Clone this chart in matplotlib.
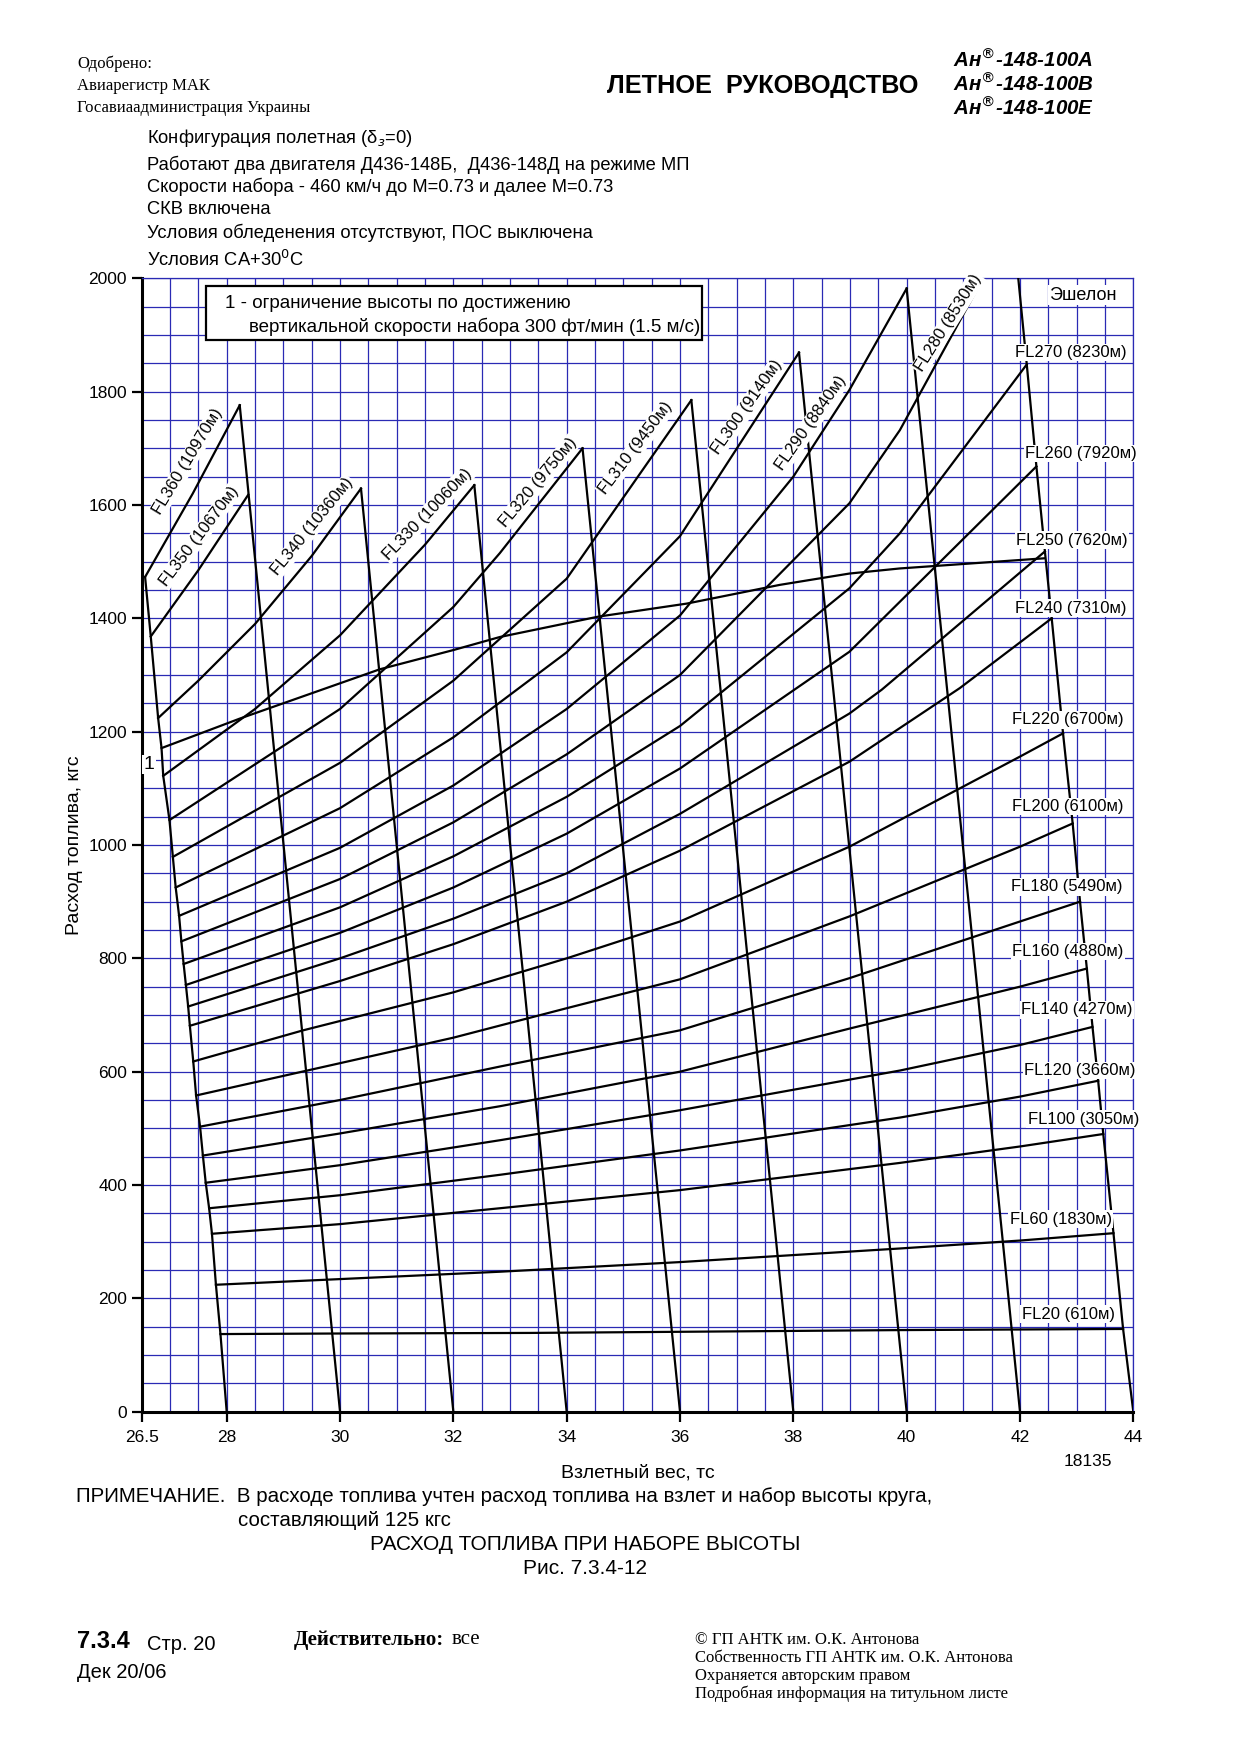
import matplotlib
matplotlib.use('Agg')
import matplotlib.pyplot as plt
from matplotlib.ticker import MultipleLocator
from matplotlib.patches import Rectangle

plt.rcParams['font.family'] = ['Liberation Sans', 'DejaVu Sans']

# --- data (x = takeoff weight, t; y = fuel, kg) ---
fl20_x = [27.89, 30, 33.36, 36, 39.88, 43.82]
fl20_y = [137, 138, 139, 141, 144, 146]
fl60_x = [27.81, 30, 32.82, 36, 39.88, 42, 43.65]
fl60_y = [224, 234, 247, 264, 288, 302, 315]
fl100_x = [27.74, 30, 32.82, 36, 39.88, 42, 43.47]
fl100_y = [314, 331, 359, 391, 439, 468, 490]
fl120_x = [27.69, 30, 32.82, 36, 39.88, 42, 43.38]
fl120_y = [359, 382, 418, 461, 519, 556, 584]
fl140_x = [27.63, 30, 32.82, 36, 39.88, 42, 43.28]
fl140_y = [404, 435, 479, 532, 602, 647, 679]
fl160_x = [27.58, 30, 32.82, 36, 38.99, 42, 43.18]
fl160_y = [452, 491, 539, 600, 676, 750, 782]
fl180_x = [27.53, 30, 32.82, 36, 38.99, 42, 43.06]
fl180_y = [503, 550, 609, 673, 765, 865, 900]
fl200_x = [27.46, 30, 32, 34, 36, 38.99, 42, 42.93]
fl200_y = [558, 615, 660, 712, 763, 874, 997, 1038]
fl220_x = [27.41, 29.35, 32, 34, 36, 38.99, 42, 42.76]
fl220_y = [618, 673, 740, 800, 865, 997, 1156, 1197]
fl240_x = [27.35, 30, 32, 34, 36, 38.99, 40.94, 42.56]
fl240_y = [681, 760, 825, 900, 990, 1147, 1277, 1400]
fl250_x = [27.32, 30, 32, 34, 36, 38.99, 39.56, 42.44]
fl250_y = [715, 800, 870, 950, 1055, 1232, 1274, 1518]
fl260_x = [27.28, 30, 32, 34, 36, 38.99, 42.29]
fl260_y = [753, 845, 925, 1020, 1135, 1341, 1668]
fl270_x = [27.24, 30, 32, 34, 36, 38.99, 39.88, 42.12]
fl270_y = [790, 890, 980, 1085, 1210, 1453, 1550, 1848]
fl280_x = [27.2, 30, 32, 34, 36, 38.99, 39.88, 41.35, 41.6]
fl280_y = [830, 940, 1040, 1160, 1300, 1603, 1732, 2000, 2050]
fl290_x = [27.16, 30, 32, 34, 36, 38, 38.99, 40.0]
fl290_y = [875, 995, 1105, 1240, 1405, 1650, 1803, 1982]
fl300_x = [27.1, 30, 32, 34, 36, 38.1]
fl300_y = [925, 1065, 1190, 1340, 1545, 1869]
fl310_x = [27.05, 30, 32, 34, 36.2]
fl310_y = [979, 1145, 1290, 1470, 1785]
fl320_x = [26.99, 30, 32, 32.82, 34.28]
fl320_y = [1044, 1240, 1420, 1515, 1700]
fl330_x = [26.88, 28.5, 30, 31.5, 32.37]
fl330_y = [1122, 1240, 1370, 1530, 1635]
fl340_x = [26.79, 27.5, 28.5, 29.5, 30.37]
fl340_y = [1224, 1290, 1390, 1510, 1629]
fl350_x = [26.66, 27.5, 28.38]
fl350_y = [1368, 1485, 1618]
fl360_x = [26.56, 27.4, 28.23]
fl360_y = [1473, 1620, 1776]

# limit curve "1" (vertical speed 300 ft/min)
limit_x = [26.85, 28.23, 30.7, 32, 32.82, 34.56, 36.12, 37.76, 38.99, 39.88, 42.44]
limit_y = [1171, 1223, 1310, 1344, 1367, 1403, 1426, 1459, 1479, 1488, 1506]

# guide lines: from the peak of a curve down to these weights at zero fuel
guide_bottom = [30, 32, 34, 36, 38, 40, 42]
right_edge_top = (41.97, 2000)

# label texts
right_names = ['FL270 (8230м)', 'FL260 (7920м)', 'FL250 (7620м)', 'FL240 (7310м)',
               'FL220 (6700м)', 'FL200 (6100м)', 'FL180 (5490м)', 'FL160 (4880м)',
               'FL140 (4270м)', 'FL120 (3660м)', 'FL100 (3050м)', 'FL60 (1830м)',
               'FL20 (610м)']
right_lx = [42.9, 43.08, 42.92, 42.9, 42.84, 42.85, 42.82, 42.84, 43.0, 43.06, 43.12, 42.72, 42.85]
right_ly = [1869, 1691, 1538, 1418, 1221, 1068, 926, 812, 709, 602, 516, 340, 172]

slant_names = ['FL360 (10970м)', 'FL350 (10670м)', 'FL340 (10360м)', 'FL330 (10060м)',
               'FL320 (9750м)', 'FL310 (9450м)', 'FL300 (9140м)', 'FL290 (8840м)',
               'FL280 (8530м)']
slant_lx = [27.31, 27.51, 29.51, 31.54, 33.5, 35.22, 37.18, 38.31, 40.73]
slant_ly = [1677, 1545, 1562, 1584, 1640, 1700, 1772, 1744, 1921]
slant_rot = [59, 53, 51, 46, 50, 53, 55, 55, 58]

curves = [(fl20_x, fl20_y), (fl60_x, fl60_y), (fl100_x, fl100_y), (fl120_x, fl120_y),
          (fl140_x, fl140_y), (fl160_x, fl160_y), (fl180_x, fl180_y), (fl200_x, fl200_y),
          (fl220_x, fl220_y), (fl240_x, fl240_y), (fl250_x, fl250_y), (fl260_x, fl260_y),
          (fl270_x, fl270_y), (fl280_x, fl280_y), (fl290_x, fl290_y), (fl300_x, fl300_y),
          (fl310_x, fl310_y), (fl320_x, fl320_y), (fl330_x, fl330_y), (fl340_x, fl340_y),
          (fl350_x, fl350_y), (fl360_x, fl360_y)]

# curves whose peak starts a guide line (in order of guide_bottom)
peak_curves = [(fl360_x, fl360_y), (fl340_x, fl340_y), (fl330_x, fl330_y), (fl320_x, fl320_y),
               (fl310_x, fl310_y), (fl300_x, fl300_y), (fl290_x, fl290_y)]
# curves that end on the right boundary line
right_curves = [(fl270_x, fl270_y), (fl260_x, fl260_y), (fl250_x, fl250_y), (fl240_x, fl240_y),
                (fl220_x, fl220_y), (fl200_x, fl200_y), (fl180_x, fl180_y), (fl160_x, fl160_y),
                (fl140_x, fl140_y), (fl120_x, fl120_y), (fl100_x, fl100_y), (fl60_x, fl60_y),
                (fl20_x, fl20_y)]

W, H = 1240, 1755
fig = plt.figure(figsize=(W / 100, H / 100), dpi=100)


def px(x, y):
    return x / W, 1 - y / H


ax = fig.add_axes([141.7 / W, 1 - 1411.7 / H, 991.6 / W, 1133.4 / H])
ax.set_xlim(26.5, 44)
ax.set_ylim(0, 2000)

grid_col = '#2a2ab4'
ax.set_xticks([26.5, 28, 30, 32, 34, 36, 38, 40, 42, 44])
ax.set_xticklabels(['26.5', '28', '30', '32', '34', '36', '38', '40', '42', '44'])
ax.set_yticks(range(0, 2001, 200))
ax.xaxis.set_minor_locator(MultipleLocator(0.5))
ax.yaxis.set_minor_locator(MultipleLocator(50))
ax.grid(which='both', color=grid_col, lw=0.9, zorder=0)
ax.tick_params(which='minor', length=0)
ax.tick_params(which='major', direction='out', length=7, width=1.6, labelsize=12.5, colors='black')
ax.tick_params(axis='x', pad=6)
for s in ['left', 'bottom']:
    ax.spines[s].set_linewidth(2.2)
    ax.spines[s].set_color('black')
for s in ['top', 'right']:
    ax.spines[s].set_linewidth(0.9)
    ax.spines[s].set_color(grid_col)
ax.set_axisbelow(True)

lw = 1.6
for cx, cy in curves:
    ax.plot(cx, cy, color='black', lw=lw, zorder=3)
ax.plot(limit_x, limit_y, color='black', lw=lw, zorder=3)

# left boundary through the curve starts
starts = sorted([(cx[0], cy[0]) for cx, cy in curves] + [(limit_x[0], limit_y[0])], key=lambda p: -p[1])
ax.plot([p[0] for p in starts] + [28], [p[1] for p in starts] + [0], color='black', lw=lw, zorder=3)

# guide lines
for (cx, cy), xb in zip(peak_curves, guide_bottom):
    ax.plot([cx[-1], xb], [cy[-1], 0], color='black', lw=lw, zorder=3)

# right boundary through the curve ends
rx = [right_edge_top[0]] + [cx[-1] for cx, cy in right_curves] + [44]
ry = [right_edge_top[1]] + [cy[-1] for cx, cy in right_curves] + [0]
ax.plot(rx, ry, color='black', lw=lw, zorder=3)

box = dict(facecolor='white', edgecolor='none', pad=1.0)
for name, lx, ly in zip(right_names, right_lx, right_ly):
    ax.text(lx, ly, name, fontsize=12, ha='center', va='center', bbox=box, zorder=5)
for name, lx, ly, r in zip(slant_names, slant_lx, slant_ly, slant_rot):
    ax.text(lx, ly, name, fontsize=12, ha='center', va='center', rotation=r,
            rotation_mode='anchor', bbox=box, zorder=5)
ax.text(43.11, 1970, 'Эшелон', fontsize=13, ha='center', va='center', bbox=box, zorder=5)
ax.text(26.63, 1142, '1', fontsize=14, ha='center', va='center', bbox=box, zorder=5)

# note box for curve 1
ax.add_patch(Rectangle((27.63, 1891), 36.38 - 27.63, 1986 - 1891, facecolor='white',
                       edgecolor='black', lw=1.6, zorder=6))
ax.text(27.97, 1956, '1 - ограничение высоты по достижению', fontsize=13.5,
        ha='left', va='center', zorder=7)
ax.text(28.40, 1914, 'вертикальной скорости набора 300 фт/мин (1.5 м/с)', fontsize=13.5,
        ha='left', va='center', zorder=7)

ax.set_ylabel('Расход топлива, кгс', fontsize=14, labelpad=4)
ax.set_xlabel('Взлетный вес, тс', fontsize=14, labelpad=14)

# header
serif = ['Liberation Serif', 'DejaVu Serif']
fig.text(*px(77, 64), 'Одобрено:', fontsize=12, family=serif, va='center')
fig.text(*px(77, 86), 'Авиарегистр МАК', fontsize=12, family=serif, va='center')
fig.text(*px(77, 108), 'Госавиаадминистрация Украины', fontsize=12, family=serif, va='center')
fig.text(*px(607, 86), 'ЛЕТНОЕ  РУКОВОДСТВО', fontsize=18.2, weight='bold', va='center')
for i, s in enumerate(['А', 'В', 'Е']):
    fig.text(*px(953, 60 + i * 24), 'Ан$^{®}$-148-100' + s, fontsize=14.8,
             weight='bold', style='italic', va='center')

cond = ['Конфигурация полетная (δ$_з$=0)',
        'Работают два двигателя Д436-148Б,  Д436-148Д на режиме МП',
        'Скорости набора - 460 км/ч до М=0.73 и далее М=0.73',
        'СКВ включена',
        'Условия обледенения отсутствуют, ПОС выключена',
        'Условия СА+30$^0$С']
cond_y = [138, 164.5, 187, 209.3, 232.8, 259.6]
for s, yy in zip(cond, cond_y):
    fig.text(*px(147, yy), s, fontsize=13.2, va='center')

fig.text(*px(1088, 1461), '18135', fontsize=12.5, ha='center', va='center')
fig.text(*px(76, 1496), 'ПРИМЕЧАНИЕ.  В расходе топлива учтен расход топлива на взлет и набор высоты круга,',
         fontsize=14.8, va='center')
fig.text(*px(238, 1521), 'составляющий 125 кгс', fontsize=14.8, va='center')
fig.text(*px(585, 1545), 'РАСХОД ТОПЛИВА ПРИ НАБОРЕ ВЫСОТЫ', fontsize=15, ha='center', va='center')
fig.text(*px(585, 1568), 'Рис. 7.3.4-12', fontsize=15, ha='center', va='center')

# footer
fig.text(*px(77, 1642), '7.3.4', fontsize=17, weight='bold', va='center')
fig.text(*px(147, 1644), 'Стр. 20', fontsize=14.5, va='center')
fig.text(*px(77, 1673), 'Дек 20/06', fontsize=14.5, va='center')
fig.text(*px(294, 1640), 'Действительно:', fontsize=15, family=serif, weight='bold', va='center')
fig.text(*px(452, 1640), 'все', fontsize=15, family=serif, va='center')
foot = ['© ГП АНТК им. О.К. Антонова', 'Собственность ГП АНТК им. О.К. Антонова',
        'Охраняется авторским правом', 'Подробная информация на титульном листе']
for i, s in enumerate(foot):
    fig.text(*px(695, 1640 + i * 17.9), s, fontsize=12, family=serif, va='center')

fig.savefig('out.png', dpi=100)
